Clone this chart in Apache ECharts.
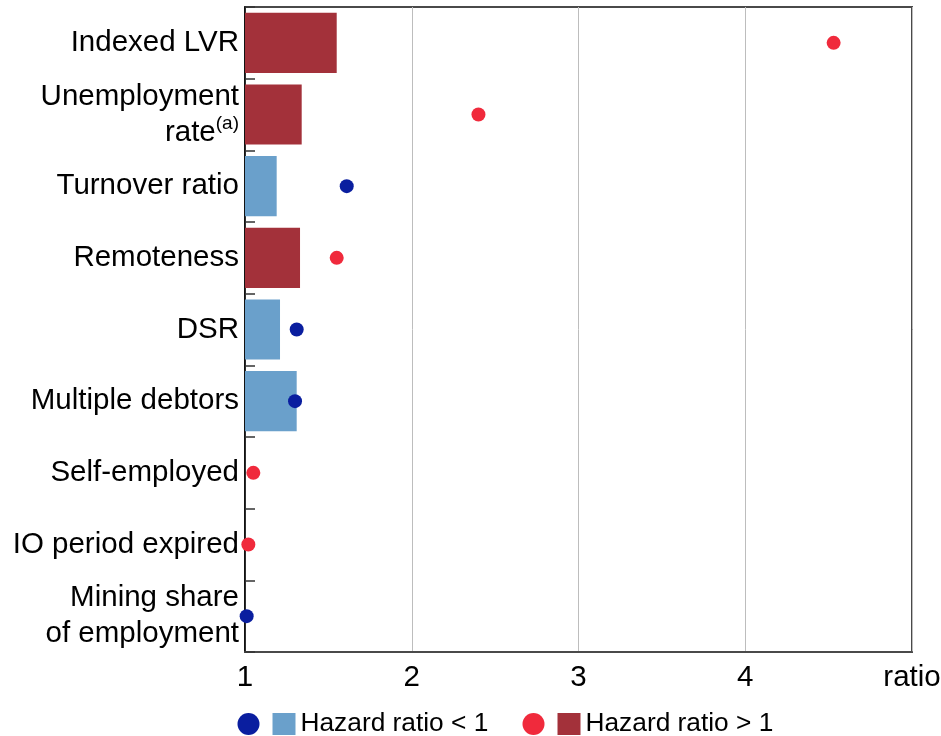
<!DOCTYPE html>
<html>
<head>
<meta charset="utf-8" />
<title>Hazard ratios</title>
<script src="https://cdn.jsdelivr.net/npm/echarts@6/dist/echarts.min.js"></script>
<style>
  html,
  body {
    margin: 0;
    padding: 0;
    background: #fff;
  }
  #chart {
    width: 941px;
    height: 736px;
  }
</style>
</head>
<body>
<div id="chart"></div>
<script>
const categories = [
  "Indexed LVR",
  "Unemployment rate",
  "Turnover ratio",
  "Remoteness",
  "DSR",
  "Multiple debtors",
  "Self-employed",
  "IO period expired",
  "Mining share of employment",
];
// bars: hazard ratio < 1 (blue) and > 1 (red)
const lowBars = [null, null, 1.19, null, 1.21, 1.31, null, null, null];
const highBars = [1.55, 1.34, null, 1.33, null, null, null, null, null];
// dots
const lowDots = [null, null, 1.61, null, 1.31, 1.3, null, null, 1.01];
const highDots = [4.53, 2.4, null, 1.55, null, null, 1.05, 1.02, null];
const xTicks = [1, 2, 3, 4, 5];
const xUnit = "ratio";

const LOW_BAR = "Hazard ratio < 1";
const HIGH_BAR = "Hazard ratio > 1";
const LOW_DOT = "Hazard ratio < 1 dot";
const HIGH_DOT = "Hazard ratio > 1 dot";

const labelText = {
  "Unemployment rate": "Unemployment\nrate{sup|(a)}",
  "Mining share of employment": "Mining share\nof employment",
};

const font = "'Liberation Sans', Arial, sans-serif";

const legendBase = {
  orient: "horizontal",
  top: 711,
  padding: 0,
  itemWidth: 23,
  itemHeight: 22,
  itemGap: 13,
  textStyle: { color: "#000", fontSize: 26.3, fontFamily: font },
  formatter: function (name) {
    return name.slice(-3) === "dot" ? "" : name;
  },
  selectedMode: false,
};

const myChart = echarts.init(document.getElementById("chart"));
myChart.setOption({
  animation: false,
  textStyle: { fontFamily: font },
  color: ["#6aa0cb", "#a3313a", "#0a1e9f", "#f02a3c"],
  legend: [
    Object.assign({}, legendBase, {
      left: 237,
      data: [
        { name: LOW_DOT, icon: "circle" },
        { name: LOW_BAR, icon: "rect" },
      ],
    }),
    Object.assign({}, legendBase, {
      left: 522,
      data: [
        { name: HIGH_DOT, icon: "circle" },
        { name: HIGH_BAR, icon: "rect" },
      ],
    }),
  ],
  grid: {
    left: 245,
    right: 29,
    top: 7,
    bottom: 84,
    containLabel: false,
    outerBoundsMode: "none",
    show: true,
    borderColor: "#4a4a4a",
    borderWidth: 2,
  },
  xAxis: {
    type: "value",
    min: xTicks[0],
    max: xTicks[xTicks.length - 1],
    interval: 1,
    axisLine: { show: true, lineStyle: { color: "#4a4a4a", width: 2 } },
    axisTick: { show: false },
    splitLine: { show: true, lineStyle: { color: "#bdbdbd", width: 1 } },
    axisLabel: {
      color: "#000",
      fontSize: 29.5,
      margin: 11,
      formatter: function (v) {
        return v === xTicks[xTicks.length - 1] ? xUnit : String(v);
      },
    },
  },
  yAxis: {
    type: "category",
    inverse: true,
    data: categories,
    axisLine: { show: true, lineStyle: { color: "#000", width: 1.5 } },
    axisTick: {
      show: true,
      inside: true,
      length: 10,
      lineStyle: { color: "#333", width: 1.5 },
    },
    splitLine: { show: false },
    axisLabel: {
      color: "#000",
      fontSize: 29.5,
      lineHeight: 36,
      margin: 6,
      align: "right",
      formatter: function (v) {
        return labelText[v] || v;
      },
      rich: {
        sup: {
          fontSize: 19,
          lineHeight: 20,
          verticalAlign: "top",
          color: "#000",
        },
      },
    },
  },
  series: [
    {
      name: LOW_BAR,
      type: "bar",
      data: lowBars,
      barGap: "-100%",
      barCategoryGap: "16%",
      itemStyle: { color: "#6aa0cb" },
      z: 2,
    },
    {
      name: HIGH_BAR,
      type: "bar",
      data: highBars,
      barGap: "-100%",
      barCategoryGap: "16%",
      itemStyle: { color: "#a3313a" },
      z: 2,
    },
    {
      name: LOW_DOT,
      type: "scatter",
      data: lowDots,
      symbol: "circle",
      symbolSize: 14,
      itemStyle: { color: "#0a1e9f", opacity: 1 },
      z: 3,
    },
    {
      name: HIGH_DOT,
      type: "scatter",
      data: highDots,
      symbol: "circle",
      symbolSize: 14,
      itemStyle: { color: "#f02a3c", opacity: 1 },
      z: 3,
    },
  ],
});
</script>
</body>
</html>
